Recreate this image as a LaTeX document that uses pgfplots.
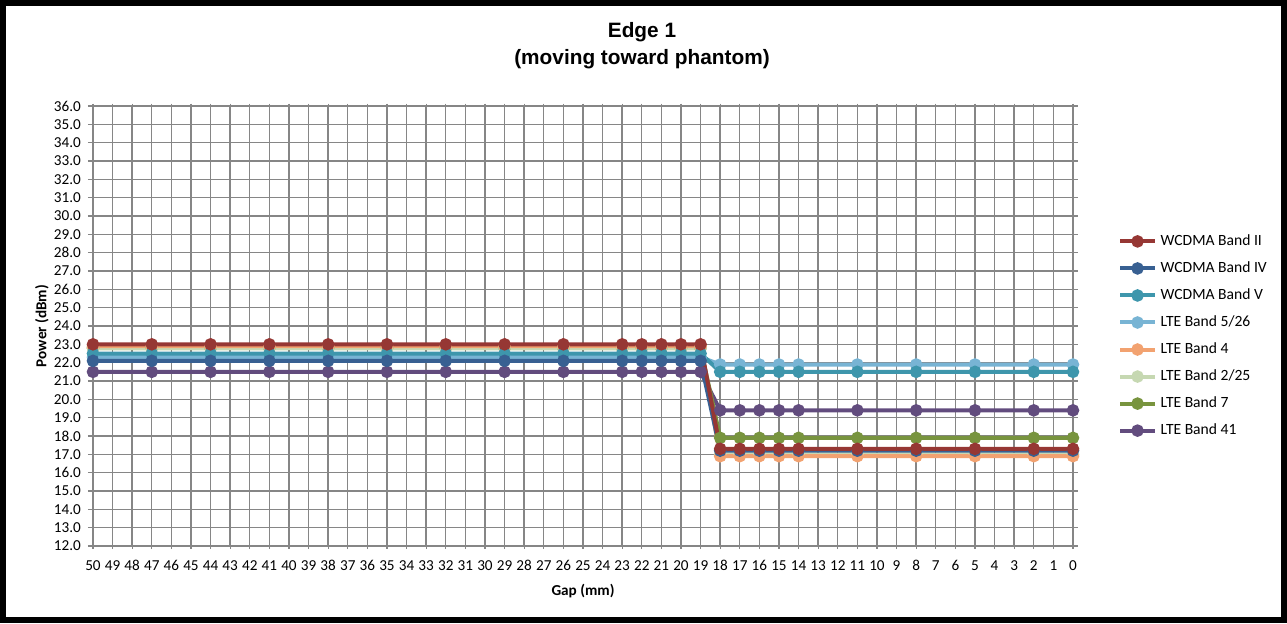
\documentclass[border=0pt]{standalone}
\usepackage{pgfplots}
\usepackage{pgfplotstable}
\pgfplotsset{compat=1.18}
\usepackage{fontspec}
\setmainfont{Carlito}
\newfontfamily\arialfont{Liberation Sans}

\definecolor{cII}{RGB}{150,55,52}
\definecolor{cIV}{RGB}{56,96,146}
\definecolor{cV}{RGB}{62,150,172}
\definecolor{cBA}{RGB}{120,180,212}
\definecolor{cBB}{RGB}{242,162,112}
\definecolor{cBC}{RGB}{198,216,178}
\definecolor{cBD}{RGB}{120,148,62}
\definecolor{cBE}{RGB}{98,76,126}
\definecolor{gridc}{RGB}{134,134,134}

\pgfplotstableread{
x  II   IV   V    B526 B4   B225 B7   B41
50 23.0 22.1 22.5 22.3 22.9 22.8 22.8 21.5
47 23.0 22.1 22.5 22.3 22.9 22.8 22.8 21.5
44 23.0 22.1 22.5 22.3 22.9 22.8 22.8 21.5
41 23.0 22.1 22.5 22.3 22.9 22.8 22.8 21.5
38 23.0 22.1 22.5 22.3 22.9 22.8 22.8 21.5
35 23.0 22.1 22.5 22.3 22.9 22.8 22.8 21.5
32 23.0 22.1 22.5 22.3 22.9 22.8 22.8 21.5
29 23.0 22.1 22.5 22.3 22.9 22.8 22.8 21.5
26 23.0 22.1 22.5 22.3 22.9 22.8 22.8 21.5
23 23.0 22.1 22.5 22.3 22.9 22.8 22.8 21.5
22 23.0 22.1 22.5 22.3 22.9 22.8 22.8 21.5
21 23.0 22.1 22.5 22.3 22.9 22.8 22.8 21.5
20 23.0 22.1 22.5 22.3 22.9 22.8 22.8 21.5
19 23.0 22.1 22.5 22.3 22.9 22.8 22.8 21.5
18 17.3 17.2 21.5 21.9 16.9 17.0 17.9 19.4
17 17.3 17.2 21.5 21.9 16.9 17.0 17.9 19.4
16 17.3 17.2 21.5 21.9 16.9 17.0 17.9 19.4
15 17.3 17.2 21.5 21.9 16.9 17.0 17.9 19.4
14 17.3 17.2 21.5 21.9 16.9 17.0 17.9 19.4
11 17.3 17.2 21.5 21.9 16.9 17.0 17.9 19.4
8  17.3 17.2 21.5 21.9 16.9 17.0 17.9 19.4
5  17.3 17.2 21.5 21.9 16.9 17.0 17.9 19.4
2  17.3 17.2 21.5 21.9 16.9 17.0 17.9 19.4
0  17.3 17.2 21.5 21.9 16.9 17.0 17.9 19.4
}\data

\begin{document}
\begin{tikzpicture}
\path[use as bounding box] (-46.5pt,-38.5pt) rectangle (597pt,273pt);
\begin{axis}[
  at={(0pt,0pt)}, anchor=south west,
  scale only axis,
  width=490pt, height=220pt,
  xmin=0, xmax=50, ymin=12, ymax=36,
  x dir=reverse,
  xtick={0,...,50},
  ytick={12,...,36},
  yticklabel={\pgfmathprintnumber[fixed,fixed zerofill,precision=1]{\tick}},
  /pgf/number format/assume math mode=true,
  grid=major,
  major grid style={gridc, line width=0.7pt},
  axis line style={gridc, line width=0.7pt},
  tick style={gridc, line width=0.6pt},
  major tick length=2.5pt,
  ytick align=outside,
  xtick align=center,
  ticklabel style={font=\fontsize{7.6}{9}\selectfont, text=black},
  yticklabel style={xshift=0pt},
  xticklabel style={yshift=-2.5pt},
  legend style={at={(1.046,0.718)}, anchor=north west, draw=none, fill=none,
    font=\fontsize{7.8}{9}\selectfont, row sep=2.6pt, inner sep=0pt},
  legend cell align=left,
  reverse legend,
  every axis plot/.append style={line width=2pt, mark=*, mark size=2.1pt},
  clip=false,
]
\addplot[cBE, mark options={fill=cBE}] table[x=x,y=B41] {\data};
\addlegendentry{LTE Band 41}
\addplot[cBD, mark options={fill=cBD}] table[x=x,y=B7] {\data};
\addlegendentry{LTE Band 7}
\addplot[cBC, mark options={fill=cBC}] table[x=x,y=B225] {\data};
\addlegendentry{LTE Band 2/25}
\addplot[cBB, mark options={fill=cBB}] table[x=x,y=B4] {\data};
\addlegendentry{LTE Band 4}
\addplot[cBA, mark options={fill=cBA}] table[x=x,y=B526] {\data};
\addlegendentry{LTE Band 5/26}
\addplot[cV, mark options={fill=cV}] table[x=x,y=V] {\data};
\addlegendentry{WCDMA Band V}
\addplot[cIV, mark options={fill=cIV}] table[x=x,y=IV] {\data};
\addlegendentry{WCDMA Band IV}
\addplot[cII, mark options={fill=cII}] table[x=x,y=II] {\data};
\addlegendentry{WCDMA Band II}
\end{axis}
\node[rotate=90, font=\fontsize{7.6}{9}\selectfont\bfseries] at (-25.5pt,110pt) {Power (dBm)};
\node[font=\fontsize{7.6}{9}\selectfont\bfseries] at (245pt,-22.5pt) {Gap (mm)};
\node[font=\arialfont\bfseries\fontsize{10.4}{13.4}\selectfont, align=center] at (274.5pt,250pt) {Edge 1\\(moving toward phantom)};
\draw[line width=3.2pt] (-44.9pt,-36.9pt) rectangle (595.4pt,271.4pt);
\end{tikzpicture}
\end{document}
